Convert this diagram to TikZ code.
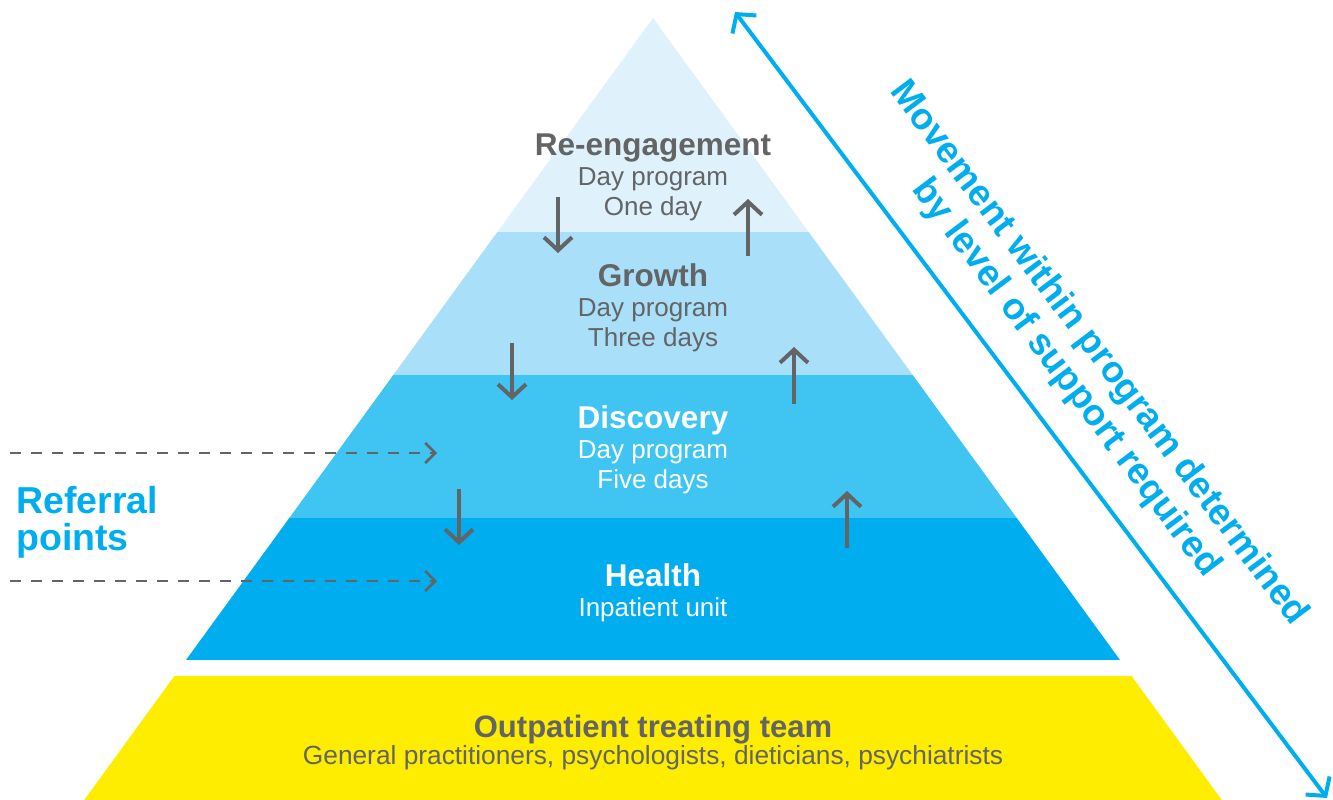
\documentclass[tikz,border=0pt]{standalone}
\usepackage{fontspec}
\setmainfont{Liberation Sans}
\usetikzlibrary{arrows.meta}
\definecolor{lvlone}{HTML}{DFF2FB}
\definecolor{lvltwo}{HTML}{A9DFF9}
\definecolor{lvlthree}{HTML}{40C5F3}
\definecolor{lvlfour}{HTML}{00AEEF}
\definecolor{outyellow}{HTML}{FFED00}
\definecolor{txtgrey}{HTML}{636466}
\definecolor{refblue}{HTML}{00AEEF}
\tikzset{
  level text/.style={align=center, anchor=base, inner sep=0pt,
    font=\fontsize{26}{30}\selectfont},
  step arrow/.style={-{Straight Barb[length=13pt,width=28pt,line width=4pt]},
    line width=4pt, txtgrey},
  refer arrow/.style={-{Straight Barb[length=10pt,width=20pt,line width=2.5pt]},
    line width=2.5pt, txtgrey, dash pattern=on 11pt off 10pt},
}
\newcommand{\lvltitle}[1]{{\fontsize{31.5}{30}\selectfont\bfseries #1}}

\begin{document}
\begin{tikzpicture}[x=1pt,y=-1pt]
\useasboundingbox (0,0) rectangle (1333,800);

% pyramid bands
\begin{scope}
\clip (653,18) -- (186,660) -- (1120,660) -- cycle;
\fill[lvlone] (0,0) rectangle (1333,232);
\fill[lvltwo] (0,232) rectangle (1333,375);
\fill[lvlthree] (0,375) rectangle (1333,518);
\fill[lvlfour] (0,518) rectangle (1333,660);
\end{scope}
\fill[outyellow] (174.4,676) -- (1131.6,676) -- (1221.8,800) -- (84.2,800) -- cycle;

% levels (base = last line)
\node[level text, txtgrey] (reeng) at (653,215) {\lvltitle{Re-engagement}\\Day program\\One day};
\node[level text, txtgrey] (growth) at (653,346) {\lvltitle{Growth}\\Day program\\Three days};
\node[level text, white] (discovery) at (653,488) {\lvltitle{Discovery}\\Day program\\Five days};
\node[level text, white] (health) at (653,616) {\lvltitle{Health}\\Inpatient unit};
\node[level text, txtgrey, font=\fontsize{26.3}{27}\selectfont] (outpat) at (653,764)
  {{\fontsize{31}{27}\selectfont\bfseries Outpatient treating team}\\General practitioners, psychologists, dieticians, psychiatrists};

% moving down
\coordinate (d1s) at (558,197); \coordinate (d1e) at (558,253);
\coordinate (d2s) at (512,343); \coordinate (d2e) at (512,400);
\coordinate (d3s) at (459,489); \coordinate (d3e) at (459,545);
\draw[step arrow] (d1s) -- (d1e);
\draw[step arrow] (d2s) -- (d2e);
\draw[step arrow] (d3s) -- (d3e);
% moving up
\coordinate (u1s) at (748,256); \coordinate (u1e) at (748,199);
\coordinate (u2s) at (794,404); \coordinate (u2e) at (794,347);
\coordinate (u3s) at (847,548); \coordinate (u3e) at (847,491);
\draw[step arrow] (u1s) -- (u1e);
\draw[step arrow] (u2s) -- (u2e);
\draw[step arrow] (u3s) -- (u3e);

% referral
\node[anchor=base west, inner sep=0pt, align=left, refblue,
  font=\fontsize{37.5}{37}\selectfont\bfseries] (referral) at (16,550) {Referral\\points};
\coordinate (r1s) at (10,453); \coordinate (r1e) at (437,453);
\coordinate (r2s) at (10,581); \coordinate (r2e) at (437,581);
\draw[refer arrow] (r1s) -- (r1e);
\draw[refer arrow] (r2s) -- (r2e);

% movement
\coordinate (mtop) at (735,12);
\coordinate (mbot) at (1327,798);
\draw[{Straight Barb[length=13pt,width=30pt,line width=4pt]}-{Straight Barb[length=13pt,width=30pt,line width=4pt]},
  line width=4pt, refblue] (mtop) -- (mbot);
\node[rotate=-53, align=center, refblue, inner sep=0pt,
  font=\fontsize{37}{41}\selectfont\bfseries] (movement) at (1082,366)
  {Movement within program determined\\by level of support required};
\end{tikzpicture}
\end{document}
